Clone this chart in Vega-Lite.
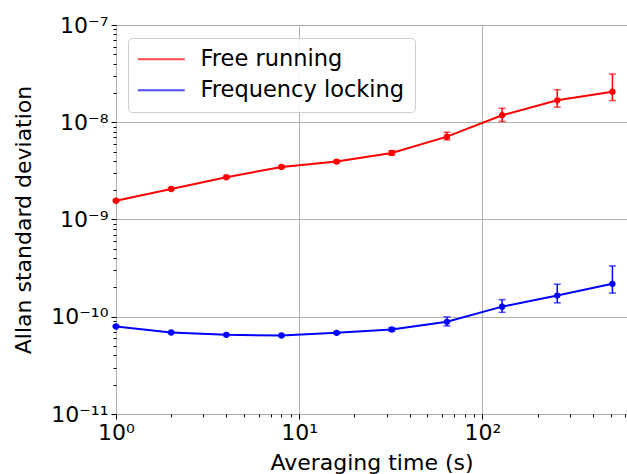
{
  "$schema": "https://vega.github.io/schema/vega-lite/v6.json",
  "width": 511,
  "height": 389,
  "autosize": {"type": "none"},
  "padding": {"left": 116, "top": 25, "right": 0, "bottom": 60},
  "background": "white",
  "config": {
    "font": "DejaVu Sans",
    "view": {"stroke": "#000000", "strokeWidth": 1},
    "axis": {"labelFont": "DejaVu Sans", "titleFont": "DejaVu Sans", "labelColor": "#000000", "titleColor": "#000000", "tickColor": "#000000", "domain": false}
  },
  "data": {
    "values": [
      {"series": "Free running", "t": 1, "y": 1.56e-9, "lo": 1.53e-9, "hi": 1.59e-9},
      {"series": "Free running", "t": 2, "y": 2.06e-9, "lo": 2.02e-9, "hi": 2.10e-9},
      {"series": "Free running", "t": 4, "y": 2.72e-9, "lo": 2.66e-9, "hi": 2.78e-9},
      {"series": "Free running", "t": 8, "y": 3.47e-9, "lo": 3.38e-9, "hi": 3.56e-9},
      {"series": "Free running", "t": 16, "y": 3.94e-9, "lo": 3.83e-9, "hi": 4.05e-9},
      {"series": "Free running", "t": 32, "y": 4.84e-9, "lo": 4.58e-9, "hi": 5.10e-9},
      {"series": "Free running", "t": 64, "y": 7.11e-9, "lo": 6.58e-9, "hi": 7.89e-9},
      {"series": "Free running", "t": 128, "y": 1.18e-8, "lo": 1.02e-8, "hi": 1.39e-8},
      {"series": "Free running", "t": 256, "y": 1.68e-8, "lo": 1.43e-8, "hi": 2.16e-8},
      {"series": "Free running", "t": 512, "y": 2.06e-8, "lo": 1.67e-8, "hi": 3.13e-8},
      {"series": "Frequency locking", "t": 1, "y": 7.94e-11, "lo": 7.8e-11, "hi": 8.1e-11},
      {"series": "Frequency locking", "t": 2, "y": 6.89e-11, "lo": 6.78e-11, "hi": 7.0e-11},
      {"series": "Frequency locking", "t": 4, "y": 6.52e-11, "lo": 6.42e-11, "hi": 6.62e-11},
      {"series": "Frequency locking", "t": 8, "y": 6.41e-11, "lo": 6.3e-11, "hi": 6.52e-11},
      {"series": "Frequency locking", "t": 16, "y": 6.83e-11, "lo": 6.68e-11, "hi": 6.98e-11},
      {"series": "Frequency locking", "t": 32, "y": 7.39e-11, "lo": 7.1e-11, "hi": 7.7e-11},
      {"series": "Frequency locking", "t": 64, "y": 8.87e-11, "lo": 8.05e-11, "hi": 9.97e-11},
      {"series": "Frequency locking", "t": 128, "y": 1.27e-10, "lo": 1.11e-10, "hi": 1.50e-10},
      {"series": "Frequency locking", "t": 256, "y": 1.65e-10, "lo": 1.39e-10, "hi": 2.16e-10},
      {"series": "Frequency locking", "t": 512, "y": 2.18e-10, "lo": 1.75e-10, "hi": 3.33e-10}
    ]
  },
  "layer": [
    {
      "mark": {"type": "rule", "strokeWidth": 1.5},
      "encoding": {
        "x": {"field": "t", "type": "quantitative", "scale": {"type": "log", "domain": [1, 615], "nice": false},
          "axis": {"orient": "bottom", "values": [1, 10, 100], "grid": true, "gridColor": "#b0b0b0", "gridWidth": 1, "tickSize": 5, "tickWidth": 1, "labelFontSize": 22, "labelPadding": 3, "labelExpr": "datum.value == 1 ? '10⁰' : datum.value == 10 ? '10¹' : '10²'", "labelFlush": false, "labelOverlap": false, "title": "Averaging time (s)", "titleFontSize": 22, "titleFontWeight": "normal", "titlePadding": 9}},
        "y": {"field": "lo", "type": "quantitative", "scale": {"type": "log", "domain": [1e-11, 1e-7], "nice": false},
          "axis": {"orient": "left", "values": [1e-11, 1e-10, 1e-9, 1e-8, 1e-7], "grid": true, "gridColor": "#b0b0b0", "gridWidth": 1, "tickSize": 5, "tickWidth": 1, "labelFontSize": 22, "labelPadding": 3, "labelFlush": false, "labelOverlap": false, "labelBaseline": "middle", "labelExpr": "round(log(datum.value)/LN10) == -7 ? '10⁻⁷' : round(log(datum.value)/LN10) == -8 ? '10⁻⁸' : round(log(datum.value)/LN10) == -9 ? '10⁻⁹' : round(log(datum.value)/LN10) == -10 ? '10⁻¹⁰' : '10⁻¹¹'", "title": "Allan standard deviation", "titleFontSize": 22, "titleFontWeight": "normal", "titlePadding": 15}},
        "y2": {"field": "hi"},
        "color": {"field": "series", "type": "nominal", "scale": {"domain": ["Free running", "Frequency locking"], "range": ["#ff0000", "#0000ff"]}, "legend": {"orient": "none", "legendX": 12, "legendY": 13, "title": null, "symbolType": "M-2.35,0H2.35", "symbolSize": 400, "symbolStrokeWidth": 2, "symbolOffset": 12, "labelOffset": 28, "labelFontSize": 22.5, "labelLimit": 400, "labelFont": "DejaVu Sans", "labelColor": "#000000", "rowPadding": 8, "padding": 10, "fillColor": "rgba(255,255,255,0.85)", "strokeColor": "#cccccc", "cornerRadius": 4}}
      }
    },
    {
      "mark": {"type": "tick", "orient": "horizontal", "size": 7, "thickness": 1.5},
      "encoding": {
        "x": {"field": "t", "type": "quantitative", "scale": {"type": "log", "domain": [1, 615], "nice": false},
          "axis": {"orient": "bottom", "values": [2, 3, 4, 5, 6, 7, 8, 9, 20, 30, 40, 50, 60, 70, 80, 90, 200, 300, 400, 500, 600], "grid": false, "labels": false, "tickSize": 3, "tickWidth": 1, "title": null}},
        "y": {"field": "lo", "type": "quantitative", "scale": {"type": "log", "domain": [1e-11, 1e-7], "nice": false},
          "axis": {"orient": "left", "values": [2e-11, 3e-11, 4e-11, 5e-11, 6e-11, 7e-11, 8e-11, 9e-11, 2e-10, 3e-10, 4e-10, 5e-10, 6e-10, 7e-10, 8e-10, 9e-10, 2e-9, 3e-9, 4e-9, 5e-9, 6e-9, 7e-9, 8e-9, 9e-9, 2e-8, 3e-8, 4e-8, 5e-8, 6e-8, 7e-8, 8e-8, 9e-8], "grid": false, "labels": false, "tickSize": 3, "tickWidth": 1, "title": null}},
        "color": {"field": "series", "type": "nominal"}
      }
    },
    {
      "mark": {"type": "tick", "orient": "horizontal", "size": 7, "thickness": 1.5},
      "encoding": {
        "x": {"field": "t", "type": "quantitative", "axis": null},
        "y": {"field": "hi", "type": "quantitative", "axis": null},
        "color": {"field": "series", "type": "nominal"}
      }
    },
    {
      "mark": {"type": "line", "strokeWidth": 2},
      "encoding": {
        "x": {"field": "t", "type": "quantitative", "axis": null},
        "y": {"field": "y", "type": "quantitative", "axis": null},
        "color": {"field": "series", "type": "nominal"}
      }
    },
    {
      "mark": {"type": "point", "filled": true, "size": 40, "opacity": 1},
      "encoding": {
        "x": {"field": "t", "type": "quantitative", "axis": null},
        "y": {"field": "y", "type": "quantitative", "axis": null},
        "color": {"field": "series", "type": "nominal"}
      }
    }
  ],
  "resolve": {"axis": {"x": "independent", "y": "independent"}}
}
